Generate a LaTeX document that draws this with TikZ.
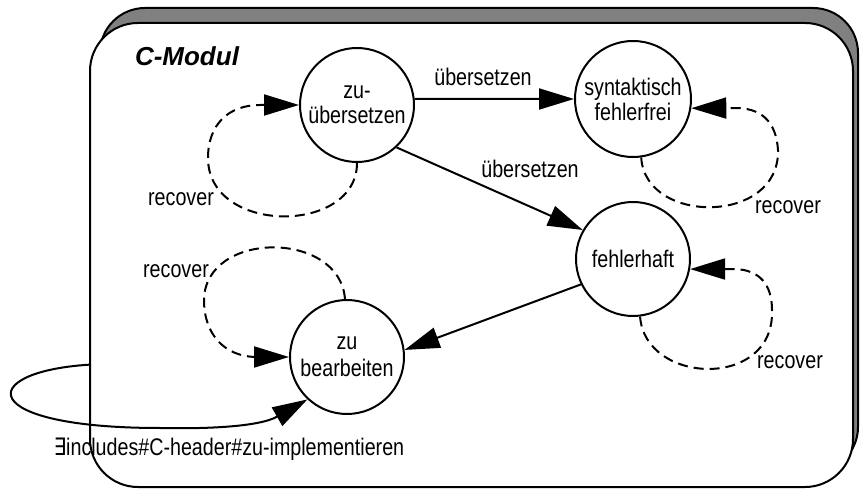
\documentclass[tikz,border=0pt]{standalone}
\usepackage{fontspec}
\setmainfont{Liberation Sans}[FakeStretch=0.82]
\newfontfamily\titlefont{Liberation Sans}
\newfontfamily\symfont{DejaVu Sans}[FakeStretch=0.82]
\usetikzlibrary{arrows.meta}

\begin{document}
\begin{tikzpicture}[x=1pt,y=-1pt,line width=2pt,
	state/.style={draw,circle,fill=white,minimum size=114pt,inner sep=0pt,align=center,font=\fontsize{24}{25}\selectfont},
	lbl/.style={font=\fontsize{24}{25}\selectfont},
	trans/.style={-{Triangle[length=35pt,width=21pt]}},
	recover/.style={trans,dash pattern=on 10pt off 6pt}]
	\useasboundingbox (0,0) rectangle (860,489);
	\draw[fill=black!50,rounded corners=45pt] (100,8) rectangle (858,472);
	\node[draw,fill=white,rounded corners=48pt,minimum width=763pt,minimum height=464pt,inner sep=0pt] (modul) at (471.5,255) {};
	\node[font={\titlefont\bfseries\itshape\fontsize{26}{28}\selectfont}] at (187,56) {C-Modul};

	\node[state] (zu) at (357,105) {zu-\\übersetzen};
	\node[state,minimum size=116pt] (syn) at (633,99) {syntaktisch\\fehlerfrei};
	\node[state] (feh) at (633,259) {fehlerhaft};
	\node[state,font=\fontsize{24}{27}\selectfont] (zb) at (347,357) {zu\\bearbeiten};

	\draw[trans] (zu.6) -- (syn.west);
	\node[lbl] at (483,77) {übersetzen};
	\draw[trans] (zu.-47) -- (feh.150);
	\node[lbl] at (530,169) {übersetzen};
	\draw[trans] (feh.206) -- (zb.7);

	\draw[recover] (zu.-90) .. controls (357,235) and (208,235) .. (208,158)
		.. controls (208,125) and (228,105) .. (260,105) -- (zu.west);
	\node[lbl] at (181,199) {recover};
	\draw[recover] (syn.-82) .. controls (645,225) and (780,225) .. (778,150)
		.. controls (776,120) and (760,108) .. (735,108) -- (syn.-9);
	\node[lbl] at (788,207) {recover};
	\draw[recover] (feh.-83) .. controls (645,385) and (775,390) .. (772,310)
		.. controls (772,285) and (760,270) .. (735,269) -- (feh.-10);
	\node[lbl] at (790,362) {recover};
	\draw[recover] (zb.92) .. controls (340,230) and (205,230) .. (204,300)
		.. controls (204,335) and (225,356) .. (255,357) -- (zb.west);
	\node[lbl] at (176,271) {recover};

	\draw[trans] (modul.196) .. controls (-25,372) and (-25,428) .. (160,428)
		.. controls (205,429) and (259,427) .. (zb.227);
	\node[lbl] at (229,449) {{\symfont ∃}includes\#C-header\#zu-implementieren};
\end{tikzpicture}
\end{document}
